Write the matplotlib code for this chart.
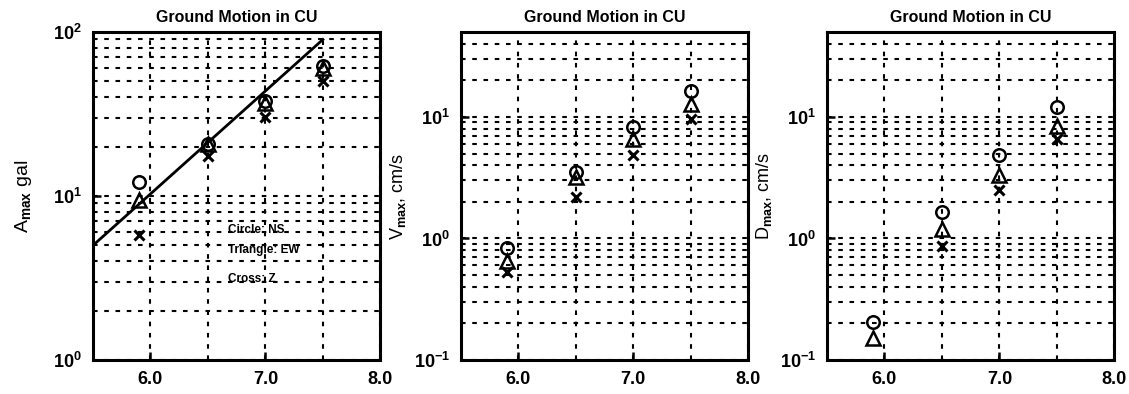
import matplotlib.pyplot as plt
from matplotlib.ticker import LogLocator, FixedLocator, NullFormatter

plt.rcParams["font.family"] = ["Liberation Sans", "DejaVu Sans"]
plt.rcParams["mathtext.fontset"] = "custom"
plt.rcParams["mathtext.rm"] = "Liberation Sans:bold"
plt.rcParams["mathtext.it"] = "Liberation Sans:bold"

# magnitudes of the events
mag = [5.9, 6.5, 7.0, 7.5]

# peak acceleration (gal)
acc_ns = [12.2, 20.8, 38.0, 62.0]
acc_ew = [9.4, 20.8, 37.0, 60.0]
acc_z = [5.8, 17.6, 30.5, 50.0]
# regression line for acceleration
fit_mag = [5.5, 7.5]
fit_acc = [5.0, 90.0]

# peak velocity (cm/s)
vel_ns = [0.84, 3.5, 8.3, 16.4]
vel_ew = [0.65, 3.2, 6.6, 12.8]
vel_z = [0.53, 2.2, 4.9, 9.6]

# peak displacement (cm)
dis_ns = [0.206, 1.64, 4.9, 12.1]
dis_ew = [0.152, 1.19, 3.3, 8.4]
dis_z = [0.05, 0.86, 2.5, 6.6]

title = "Ground Motion in CU"
ylabels = [r"A$_{\rm max}$ gal", r"V$_{\rm max}$, cm/s", r"D$_{\rm max}$, cm/s"]
ylims = [(1, 100), (0.1, 50), (0.1, 50)]
xticks = [6.0, 7.0, 8.0]
xgrid = [6.5, 7.5]

fig = plt.figure(figsize=(11.29, 3.94), dpi=100)
lefts = [0.0824, 0.4083, 0.7325]
width = 0.2545
panels = [(acc_ns, acc_ew, acc_z), (vel_ns, vel_ew, vel_z), (dis_ns, dis_ew, dis_z)]
dash = (0, (2.2, 3.2))

for i, (ns, ew, z) in enumerate(panels):
    ax = fig.add_axes([lefts[i], 0.0863, width, 0.8325])
    ax.set_yscale("log")
    ax.set_xlim(5.5, 8.0)
    ax.set_ylim(*ylims[i])

    # dotted grid on every log tick and at half-magnitude steps
    ax.yaxis.set_major_locator(LogLocator(base=10))
    ax.yaxis.set_minor_locator(LogLocator(base=10, subs=range(2, 10)))
    ax.yaxis.set_minor_formatter(NullFormatter())
    ax.xaxis.set_major_locator(FixedLocator(xticks))
    ax.xaxis.set_minor_locator(FixedLocator(xgrid))
    ax.set_xticklabels([f"{t:.1f}" for t in xticks])
    ax.grid(True, which="both", color="black", linestyle=dash, linewidth=1.5)
    ax.tick_params(axis="both", which="major", direction="in", length=6,
                   width=1.8, labelsize=13, pad=8)
    ax.tick_params(axis="both", which="minor", direction="in", length=3,
                   width=1.2)
    ax.tick_params(axis="x", which="minor", length=0)
    for lab in ax.get_xticklabels() + ax.get_yticklabels():
        lab.set_fontweight("bold")
    for sp in ax.spines.values():
        sp.set_linewidth(2.2)

    ax.plot(mag, ns, linestyle="none", marker="o", markersize=9,
            markerfacecolor="none", markeredgecolor="black", markeredgewidth=1.8)
    ax.plot(mag, ew, linestyle="none", marker="^", markersize=10,
            markerfacecolor="none", markeredgecolor="black", markeredgewidth=1.8)
    ax.plot(mag, z, linestyle="none", marker="x", markersize=7,
            color="black", markeredgewidth=2.2)

    if i == 0:
        ax.plot(fit_mag, fit_acc, color="black", linewidth=2.0)
        ax.text(6.67, 6.2, "Circle: NS", fontsize=8.5, fontweight="bold", va="center")
        ax.text(6.67, 4.7, "Triangle: EW", fontsize=8.5, fontweight="bold", va="center")
        ax.text(6.67, 3.1, "Cross: Z", fontsize=8.5, fontweight="bold", va="center")

    ax.set_title(title, fontsize=11.5, fontweight="bold", pad=7)
    ax.set_ylabel(ylabels[i], fontsize=14 if i == 0 else 13,
                  labelpad=14 if i == 0 else 4)

fig.savefig("out.png", dpi=100)
